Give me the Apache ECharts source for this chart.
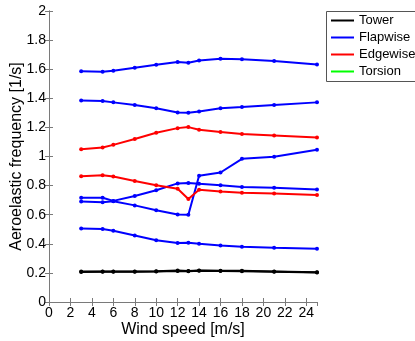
<!DOCTYPE html>
<html>
<head>
<meta charset="utf-8">
<script src="https://cdn.jsdelivr.net/npm/echarts@6/dist/echarts.min.js"></script>
<style>html,body{margin:0;padding:0;background:#fff;}#c{width:415px;height:341px;}</style>
</head>
<body>
<div id="c"></div>
<script>
const windSpeed = [3, 5, 6, 8, 10, 12, 13, 14, 16, 18, 21, 25];
const xTicks = [0, 2, 4, 6, 8, 10, 12, 14, 16, 18, 20, 22, 24];
const yTicks = [0, 0.2, 0.4, 0.6, 0.8, 1, 1.2, 1.4, 1.6, 1.8, 2];

const tower1 = [0.207, 0.208, 0.208, 0.208, 0.210, 0.213, 0.211, 0.214, 0.213, 0.212, 0.208, 0.203];
const tower2 = [0.209, 0.210, 0.210, 0.210, 0.212, 0.216, 0.213, 0.217, 0.215, 0.214, 0.210, 0.205];
const flap1 = [0.506, 0.501, 0.490, 0.457, 0.425, 0.405, 0.407, 0.400, 0.388, 0.379, 0.372, 0.366];
const flap2 = [0.690, 0.685, 0.692, 0.664, 0.630, 0.602, 0.600, 0.868, 0.890, 0.984, 0.998, 1.047];
const flap3 = [0.716, 0.717, 0.695, 0.729, 0.768, 0.815, 0.818, 0.812, 0.803, 0.790, 0.785, 0.774];
const flap4 = [1.385, 1.381, 1.372, 1.354, 1.331, 1.303, 1.301, 1.310, 1.331, 1.340, 1.354, 1.372];
const flap5 = [1.586, 1.582, 1.590, 1.610, 1.630, 1.650, 1.645, 1.660, 1.672, 1.668, 1.656, 1.632];
const edge1 = [0.864, 0.871, 0.862, 0.832, 0.802, 0.779, 0.708, 0.771, 0.759, 0.751, 0.745, 0.735];
const edge2 = [1.050, 1.062, 1.080, 1.120, 1.163, 1.195, 1.202, 1.184, 1.168, 1.154, 1.145, 1.131];
const torsion = [];

const FONT = 'Liberation Sans, Arial, Helvetica, sans-serif';
const AX = '#7a7a7a';

function pairs(v) { return v.map((y, i) => [windSpeed[i], y]); }
function mk(name, color, vals) {
  return {
    name: name, type: 'line', data: pairs(vals),
    xAxisIndex: 0, yAxisIndex: 0,
    symbol: 'circle', symbolSize: 4, showSymbol: true,
    lineStyle: { color: color, width: 2 },
    itemStyle: { color: color },
    emphasis: { disabled: true },
    animation: false
  };
}

const chart = echarts.init(document.getElementById('c'), null, { renderer: 'canvas' });
const baseX = {
  type: 'value', min: xTicks[0], max: 25, interval: 2,
  axisLine: { show: true, lineStyle: { color: AX, width: 1 } },
  axisTick: { show: true, inside: true, length: 4, lineStyle: { color: AX } },
  splitLine: { show: false },
};
const baseY = {
  type: 'value', min: yTicks[0], max: yTicks[yTicks.length - 1], interval: 0.2,
  axisLine: { show: true, lineStyle: { color: AX, width: 1 } },
  axisTick: { show: true, inside: true, length: 4, lineStyle: { color: AX } },
  splitLine: { show: false },
};

chart.setOption({
  animation: false,
  backgroundColor: '#fff',
  grid: { left: 49, right: 98, top: 11, bottom: 39, containLabel: false, outerBoundsMode: 'none' },
  graphic: [{
    type: 'rect', left: 326, top: 11, z: 0, silent: true,
    shape: { width: 100, height: 70 },
    style: { fill: '#fff', stroke: '#555', lineWidth: 1 }
  }],
  legend: {
    data: ['Tower', 'Flapwise', 'Edgewise', 'Torsion'],
    orient: 'vertical', left: 326, top: 11,
    icon: 'rect', itemWidth: 23, itemHeight: 2, itemGap: 4,
    borderWidth: 0, padding: [3, 2, 3, 5],
    textStyle: { fontFamily: FONT, fontSize: 13, color: '#000' },
    selectedMode: false, z: 5
  },
  xAxis: [
    Object.assign({}, baseX, {
      position: 'bottom',
      name: 'Wind speed [m/s]', nameLocation: 'middle', nameGap: 20, nameMoveOverlap: false,
      nameTextStyle: { fontFamily: FONT, fontSize: 16, color: '#000' },
      axisLabel: { show: true, margin: 4, color: '#000', fontFamily: FONT, fontSize: 14, showMaxLabel: false,
        formatter: v => xTicks.indexOf(v) >= 0 ? String(v) : '' }
    }),
    Object.assign({}, baseX, { position: 'top', axisLabel: { show: false } })
  ],
  yAxis: [
    Object.assign({}, baseY, {
      position: 'left',
      name: 'Aeroelastic frequency [1/s]', nameLocation: 'middle', nameGap: 24, nameMoveOverlap: false,
      nameTextStyle: { fontFamily: FONT, fontSize: 16, color: '#000' },
      axisLabel: { show: true, margin: 3, color: '#000', fontFamily: FONT, fontSize: 14,
        formatter: v => String(Math.round(v * 10) / 10) }
    }),
    Object.assign({}, baseY, { position: 'right', axisLabel: { show: false } })
  ],
  series: [
    mk('Tower', '#000000', tower1),
    mk('Tower', '#000000', tower2),
    mk('Flapwise', '#0000ff', flap1),
    mk('Flapwise', '#0000ff', flap2),
    mk('Flapwise', '#0000ff', flap3),
    mk('Flapwise', '#0000ff', flap4),
    mk('Flapwise', '#0000ff', flap5),
    mk('Edgewise', '#ff0000', edge1),
    mk('Edgewise', '#ff0000', edge2),
    mk('Torsion', '#00ff00', torsion)
  ]
});
</script>
</body>
</html>
